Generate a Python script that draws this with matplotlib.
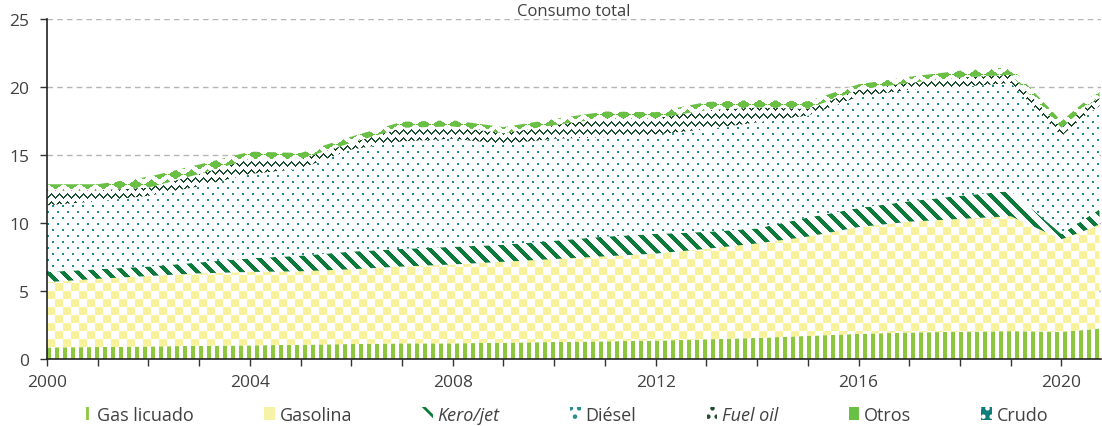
import numpy as np
import matplotlib
matplotlib.use("Agg")
import matplotlib.pyplot as plt
from matplotlib.patches import Patch
from matplotlib.ticker import FixedLocator, FuncFormatter

# ---------------- data ----------------
years = [2000, 2001, 2002, 2003, 2004, 2005, 2006, 2007, 2008, 2009, 2010,
         2011, 2012, 2013, 2014, 2015, 2016, 2017, 2018, 2019, 2020, 2020.5, 2020.75]
gas_licuado = [0.85, 0.88, 0.92, 0.97, 1.0, 1.05, 1.1, 1.15, 1.15, 1.2, 1.25,
               1.3, 1.35, 1.45, 1.55, 1.7, 1.85, 1.95, 2.0, 2.05, 2.0, 2.15, 2.25]
gasolina = [4.8, 5.02, 5.18, 5.33, 5.4, 5.4, 5.5, 5.65, 5.8, 5.95, 6.1,
            6.25, 6.4, 6.65, 6.95, 7.3, 7.85, 8.15, 8.3, 8.45, 6.8, 7.35, 7.65]
kero_jet = [0.75, 0.7, 0.7, 0.8, 1.0, 1.15, 1.3, 1.3, 1.3, 1.25, 1.35,
            1.45, 1.45, 1.25, 1.1, 1.4, 1.4, 1.5, 1.7, 1.85, 0.4, 0.9, 1.1]
diesel = [4.9, 5.0, 5.2, 5.6, 6.2, 6.4, 7.5, 7.9, 7.95, 7.4, 7.5,
          7.3, 7.3, 7.55, 7.8, 7.5, 8.2, 8.2, 8.0, 7.95, 7.2, 7.6, 7.6]
fuel_oil = [1.1, 0.8, 0.6, 0.9, 1.1, 0.7, 0.5, 1.0, 0.9, 0.8, 1.0,
            1.4, 1.2, 1.4, 1.1, 0.5, 0.5, 0.5, 0.7, 0.6, 0.6, 0.6, 0.6]
otros = [0.45, 0.45, 0.8, 0.7, 0.55, 0.45, 0.45, 0.45, 0.45, 0.45, 0.45,
         0.5, 0.45, 0.6, 0.55, 0.55, 0.4, 0.45, 0.5, 0.55, 0.5, 0.45, 0.5]
crudo = [0.0] * len(years)

series_names = ["Gas licuado", "Gasolina", "Kero/jet", "Diésel", "Fuel oil", "Otros", "Crudo"]
series_values = [gas_licuado, gasolina, kero_jet, diesel, fuel_oil, otros, crudo]
x_tick_years = list(range(2000, 2021))
y_ticks = [0, 5, 10, 15, 20, 25]
title = "Consumo total"

# ---------------- style ----------------
plt.rcParams['font.family'] = ['Open Sans', 'DejaVu Sans']
plt.rcParams['hatch.linewidth'] = 2.0
TEXT = '#404040'

FIG_W, FIG_H, DPI = 1102, 427, 100
fig = plt.figure(figsize=(FIG_W / DPI, FIG_H / DPI), dpi=DPI)
ax_l, ax_r, ax_t, ax_b = 47, 1101, 20, 360
ax = fig.add_axes([ax_l / FIG_W, 1 - ax_b / FIG_H, (ax_r - ax_l) / FIG_W, (ax_b - ax_t) / FIG_H])
W, H = ax_r - ax_l, ax_b - ax_t

rr, cc = np.mgrid[0:H, 0:W]


def hex2rgb(h):
    h = h.lstrip('#')
    return np.array([int(h[i:i + 2], 16) / 255 for i in (0, 2, 4)])


def texture(mask, color, bg='#ffffff'):
    img = np.ones((H, W, 4))
    img[..., :3] = hex2rgb(bg)
    img[mask, :3] = hex2rgb(color)
    return img


# pattern textures (styles)
tex_gas = texture((cc % 8) < 4, '#8dc63f')
tex_gasolina = texture(((cc // 8) + (rr // 8)) % 2 == 0, '#f7f29b')
tex_kero = texture(((cc - rr) % 15) < 6, '#0b7a3b')
k = rr // 6
dmask = ((rr % 6) < 2) & (((cc + 5 * (k % 2)) % 10) < 2)
tex_diesel = texture(dmask, '#238b86')
t = cc % 8
off = np.abs(t - 4) - 2
fmask = ((rr - off) % 8) < 2
tex_fuel = texture(fmask, '#1d4a2c')
j = rr // 10
cx = (cc + 8 * (j % 2)) % 16 - 8
cy = rr % 10 - 5
omask = (np.abs(cx) / 7.0 + np.abs(cy) / 5.0) <= 1
tex_otros = texture(omask, '#6abf45')
crmask = ((rr % 6) < 2) & ((cc % 6) < 2)
tex_crudo = texture(crmask, '#ffffff', bg='#0f7d78')
textures = [tex_gas, tex_gasolina, tex_kero, tex_diesel, tex_fuel, tex_otros, tex_crudo]

x = np.array(years)
base = np.zeros(len(years))
for i, (vals, tex) in enumerate(zip(series_values, textures)):
    top = base + np.array(vals)
    poly = ax.fill_between(x, base, top, facecolor='none', edgecolor='none', zorder=2 + i)
    if np.any(top > base):
        im = ax.imshow(tex, extent=(0, 1, 0, 1), transform=ax.transAxes, aspect='auto',
                       interpolation='nearest', zorder=2 + i)
        im.set_clip_path(poly.get_paths()[0], transform=ax.transData)
    base = top

ax.set_xlim(2000, 2020.78)
ax.set_ylim(0, 25)

# grid
for yv in y_ticks:
    ax.axhline(yv, color='#b5b5b5', lw=1, ls=(0, (4, 3)), zorder=1)

ax.xaxis.set_major_locator(FixedLocator(x_tick_years))
ax.xaxis.set_major_formatter(FuncFormatter(lambda v, p: f"{int(round(v))}" if int(round(v)) % 4 == 0 else ""))
ax.yaxis.set_major_locator(FixedLocator(y_ticks))
ax.tick_params(axis='both', colors='#333333', labelcolor=TEXT, labelsize=12.5, length=5, width=1)
ax.tick_params(axis='y', pad=8)
ax.tick_params(axis='x', pad=6)
for s in ['top', 'right']:
    ax.spines[s].set_visible(False)
for s in ['left', 'bottom']:
    ax.spines[s].set_color('#222222')
    ax.spines[s].set_linewidth(1.2)
    ax.spines[s].set_zorder(20)

ax.set_title(title, fontsize=12, color=TEXT, pad=3)

# legend
handles = [
    Patch(facecolor='white', edgecolor='#8dc63f', hatch='||', lw=0),
    Patch(facecolor='#f7f3a6', edgecolor='none', lw=0),
    Patch(facecolor='white', edgecolor='#0b7a3b', hatch='\\\\', lw=0),
    Patch(facecolor='white', edgecolor='#238b86', hatch='..', lw=0),
    Patch(facecolor='white', edgecolor='#1d4a2c', hatch='..', lw=0),
    Patch(facecolor='#6abf45', edgecolor='none', lw=0),
    Patch(facecolor='#0f7d78', edgecolor='white', hatch='..', lw=0),
]
leg = fig.legend(handles, series_names, loc='center', bbox_to_anchor=(565 / FIG_W, 11 / FIG_H),
                 ncol=7, frameon=False, fontsize=13, handlelength=0.6, handleheight=0.7,
                 handletextpad=0.25, columnspacing=3.9, borderpad=0, borderaxespad=0)
for txt in leg.get_texts():
    txt.set_color(TEXT)
leg.get_texts()[2].set_style('italic')
leg.get_texts()[4].set_style('italic')

fig.savefig('out.png', dpi=DPI)
